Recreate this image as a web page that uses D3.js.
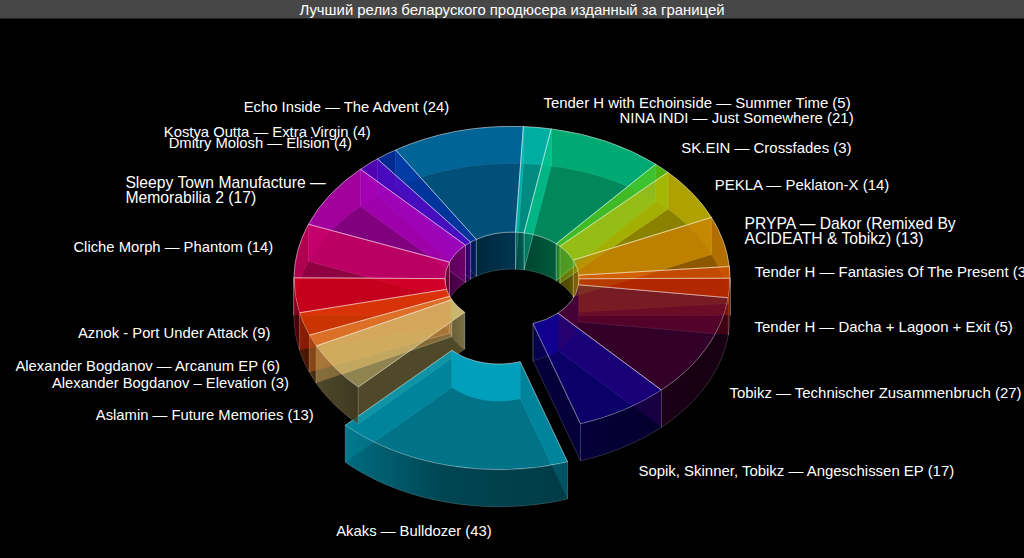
<!DOCTYPE html>
<html>
<head>
<meta charset="utf-8">
<script src="https://cdnjs.cloudflare.com/ajax/libs/d3/7.8.5/d3.min.js"></script>
<style>
html, body { margin: 0; padding: 0; background: #000; overflow: hidden; }
text { font-family: "Liberation Sans", Arial, sans-serif; fill: #fff; }
</style>
</head>
<body>
<svg width="1024" height="558"></svg>
<script>
const titleText = "Лучший релиз беларуского продюсера изданный за границей";

const releases = [
  "Tender H with Echoinside — Summer Time (5)",
  "NINA INDI — Just Somewhere (21)",
  "SK.EIN — Crossfades (3)",
  "PEKLA — Peklaton-X (14)",
  "PRYPA — Dakor (Remixed By\nACIDEATH & Tobikz) (13)",
  "Tender H — Fantasies Of The Present (3)",
  "Tender H — Dacha + Lagoon + Exit (5)",
  "Tobikz — Technischer Zusammenbruch (27)",
  "Sopik, Skinner, Tobikz — Angeschissen EP (17)",
  "Akaks — Bulldozer (43)",
  "Aslamin — Future Memories (13)",
  "Alexander Bogdanov – Elevation (3)",
  "Alexander Bogdanov — Arcanum EP (6)",
  "Aznok - Port Under Attack (9)",
  "Cliche Morph — Phantom (14)",
  "Sleepy Town Manufacture —\nMemorabilia 2 (17)",
  "Dmitry Molosh — Elision (4)",
  "Kostya Outta — Extra Virgin (4)",
  "Echo Inside — The Advent (24)"
];
const votes = [5, 21, 3, 14, 13, 3, 5, 27, 17, 43, 13, 3, 6, 9, 14, 17, 4, 4, 24];
const colors = ["#00cdbe", "#00c887", "#5ad214", "#cdbe00", "#d28200", "#d84600", "#a80e00",
  "#4a003c", "#10009a", "#00aac8", "#d4c274", "#e18732", "#e14600", "#dc0014",
  "#d2005f", "#be00b9", "#5f00cd", "#0032aa", "#0076b2"];
const explodedRelease = "Akaks — Bulldozer (43)";

// label tweaks where the chart moved them away from the ring
const labelNudge = [[3, -6], [1, -7], [1, -6], [0, 2], [-5, -5], [-2, 1], [-2, 1], [-1, -1], [1, 8],
  [36, 48], [1, -1], [1, -2], [2, -1], [2, -1], [2, 0], [18, 6], [1, -7], [0, -7], [-1, -6]];

const svg = d3.select("svg"),
    width = +svg.attr("width"),
    height = +svg.attr("height");

const cx = 512, cy = 279;
const outerR = 218, innerR = 67, tilt = 0.7, depth = 37;
const explode = 56;
const rad = Math.PI / 180;

svg.append("rect").attr("width", width).attr("height", height).attr("fill", "#000");
svg.append("rect").attr("width", width).attr("height", 18.5).attr("fill", "#474747");
svg.append("text").attr("x", width / 2).attr("y", 15)
    .attr("text-anchor", "middle").style("font-size", "14.9px").text(titleText);

const start = 3 * rad;
const pie = d3.pie().sort(null).startAngle(start).endAngle(start + 2 * Math.PI);
const arcs = pie(votes);
const explodedIndex = releases.indexOf(explodedRelease);

const arcTop = d3.arc().innerRadius(innerR).outerRadius(outerR);
const line = d3.line();

function shade(c, k) {
  const r = d3.rgb(c);
  return d3.rgb(r.r * k, r.g * k, r.b * k).formatHex();
}

function offset(i) {
  if (i !== explodedIndex) return [0, 0];
  const mid = (arcs[i].startAngle + arcs[i].endAngle) / 2;
  return [explode * Math.sin(mid), -explode * tilt * Math.cos(mid)];
}

function pt(r, a, z, i) {
  const o = offset(i);
  return [cx + o[0] + r * Math.sin(a), cy + o[1] - r * tilt * Math.cos(a) + z];
}

function arcPts(r, a0, a1, z, i) {
  const n = Math.max(2, Math.ceil(Math.abs(a1 - a0) / (2 * rad)));
  return d3.range(n + 1).map(k => pt(r, a0 + (a1 - a0) * k / n, z, i));
}

function wallPath(r, a0, a1, i) {
  return line(arcPts(r, a0, a1, 0, i).concat(arcPts(r, a1, a0, depth, i))) + "Z";
}

function sidePath(a, i) {
  return line([pt(innerR, a, 0, i), pt(outerR, a, 0, i), pt(outerR, a, depth, i), pt(innerR, a, depth, i)]) + "Z";
}

// cut an angle range in the parts behind and in front of the centre
function split(a0, a1) {
  const cuts = [90, 270, 450].map(d => d * rad).filter(c => c > a0 && c < a1);
  const edges = [a0].concat(cuts, [a1]);
  return d3.pairs(edges).map(p => {
    const m = (p[0] + p[1]) / 2;
    return { a0: p[0], a1: p[1], front: Math.cos(m) < 0 };
  });
}

const defs = svg.append("defs");
colors.forEach((c, i) => {
  const big = i === explodedIndex;
  const g = defs.append("linearGradient").attr("id", "front" + i);
  g.append("stop").attr("offset", "0%").attr("stop-color", shade(c, big ? 0.66 : 0.38));
  g.append("stop").attr("offset", "45%").attr("stop-color", shade(c, big ? 0.42 : 0.34));
  g.append("stop").attr("offset", "100%").attr("stop-color", shade(c, big ? 0.36 : 0.3));
  const b = defs.append("linearGradient").attr("id", "hole" + i);
  b.append("stop").attr("offset", "0%").attr("stop-color", shade(c, 0.34));
  b.append("stop").attr("offset", "100%").attr("stop-color", shade(c, 0.46));
});

// walls look brighter where a top face lies over them, so that part is drawn twice
const topClip = defs.append("clipPath").attr("id", "underTop");
const frontClip = defs.append("clipPath").attr("id", "underFront");
arcs.forEach((d, i) => {
  const o = offset(i);
  topClip.append("path")
      .attr("d", arcTop({ startAngle: d.startAngle, endAngle: d.endAngle }))
      .attr("transform", `translate(${cx + o[0]},${cy + o[1]}) scale(1,${tilt})`);
  split(d.startAngle, d.endAngle).filter(s => s.front).forEach(s => {
    frontClip.append("path").attr("d", wallPath(outerR, s.a0, s.a1, i));
  });
});

const gBottom = svg.append("g");
const gWalls = svg.append("g");
const gCovered = svg.append("g").attr("clip-path", "url(#underTop)");
const gTop = svg.append("g");
const gFront = svg.append("g");
const gFrontSides = svg.append("g").attr("clip-path", "url(#underFront)");
const gLabels = svg.append("g");

const edgeSoft = "rgba(255,255,255,0.16)";
const edgeBright = "rgba(255,255,255,0.42)";

// last slices first: where two side walls coincide the earlier slice stays on top
d3.range(arcs.length - 1, -1, -1).forEach(i => {
  const d = arcs[i], c = colors[i], o = offset(i);
  const a0 = d.startAngle, a1 = d.endAngle;

  gBottom.append("path")
      .attr("d", arcTop({ startAngle: a0, endAngle: a1 }))
      .attr("transform", `translate(${cx + o[0]},${cy + o[1] + depth}) scale(1,${tilt})`)
      .attr("fill", shade(c, 0.2));

  split(a0, a1).forEach(s => {
    gWalls.append("path")
        .attr("d", wallPath(innerR, s.a0, s.a1, i))
        .attr("fill", `url(#hole${i})`)
        .attr("stroke", edgeSoft);
    if (s.front) {
      gCovered.append("path")
          .attr("d", wallPath(innerR, s.a0, s.a1, i))
          .attr("fill", shade(c, 0.85));
      gFront.append("path")
          .attr("d", wallPath(outerR, s.a0, s.a1, i))
          .attr("fill", `url(#front${i})`)
          .attr("fill-opacity", 0.95)
          .attr("stroke", edgeSoft);
    } else {
      gWalls.append("path")
          .attr("d", wallPath(outerR, s.a0, s.a1, i))
          .attr("fill", shade(c, 0.62))
          .attr("stroke", edgeSoft);
    }
  });

  [a0, a1].forEach(a => {
    gWalls.append("path")
        .attr("d", sidePath(a, i))
        .attr("fill", c)
        .attr("fill-opacity", 0.22)
        .attr("stroke", edgeSoft);
    // the walls that face the pulled-out slice have nothing of their own above them
    const facesGap = (i === explodedIndex + 1 && a === a0) || (i === explodedIndex - 1 && a === a1);
    if (!facesGap) {
      gCovered.append("path")
          .attr("d", sidePath(a, i))
          .attr("fill", c)
          .attr("fill-opacity", 0.3);
    }
    gFrontSides.append("path")
        .attr("d", sidePath(a, i))
        .attr("fill", c)
        .attr("fill-opacity", 0.22);
  });

  gTop.append("path")
      .attr("d", arcTop({ startAngle: a0, endAngle: a1 }))
      .attr("transform", `translate(${cx + o[0]},${cy + o[1]}) scale(1,${tilt})`)
      .attr("fill", c)
      .attr("fill-opacity", 0.6)
      .attr("stroke", edgeBright)
      .attr("vector-effect", "non-scaling-stroke");
});

// labels sit on a larger ellipse round the ring
const labelR = 245;
arcs.forEach((d, i) => {
  const mid = (d.startAngle + d.endAngle) / 2;
  const s = Math.sin(mid), co = Math.cos(mid);
  const n = labelNudge[i];
  const ax = cx + labelR * s + n[0];
  const ay = cy - labelR * tilt * co + (co < 0 ? depth : 0) + n[1];
  const lines = releases[i].split("\n");
  const size = lines.length > 1 ? 15.7 : (s < 0 ? 14.8 : 14.95);
  const t = gLabels.append("text").style("font-size", size + "px");
  const spans = lines.map((l, k) => t.append("tspan").attr("dy", k ? 15 : 0).text(l));
  const w = d3.max(spans, sp => sp.node().getComputedTextLength());
  const x = s < 0 ? ax - w : ax;
  const y = ay + 5 - (lines.length - 1) * 7.5;
  t.attr("y", y);
  spans.forEach(sp => sp.attr("x", x));
});
</script>
</body>
</html>
